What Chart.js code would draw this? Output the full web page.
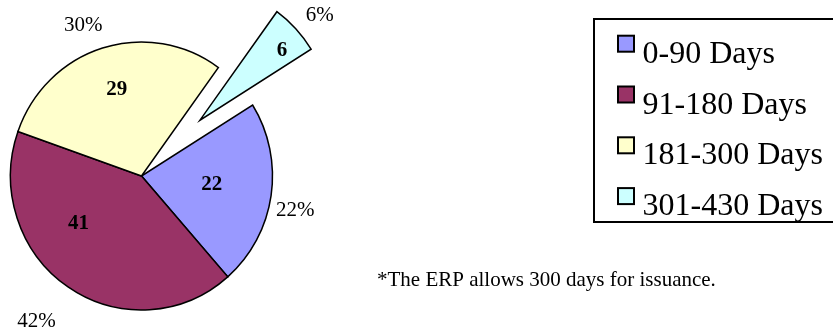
<!DOCTYPE html>
<html>
<head>
<meta charset="utf-8">
<script src="https://cdn.jsdelivr.net/npm/chart.js@4.4.1/dist/chart.umd.min.js"></script>
<style>
  html, body { margin: 0; padding: 0; background: #fff; }
  #wrap { width: 833px; height: 333px; position: relative; }
</style>
</head>
<body>
<div id="wrap"><canvas id="chart"></canvas></div>
<script>
// data
const categories = ['0-90 Days', '91-180 Days', '181-300 Days', '301-430 Days'];
const values = [22, 41, 29, 6];
const colors = ['#9999ff', '#993366', '#ffffcc', '#ccffff'];
const footnote = '*The ERP allows 300 days for issuance.';

const SERIF = '"Liberation Serif", "Times New Roman", serif';

// draws each slice itself so the pulled-out one keeps its radius
// (pie in the original is a touch taller than wide -> squash)
const explodePlugin = {
  id: 'explode',
  beforeDatasetDraw(chart, args, opts) {
    const ctx = chart.ctx;
    args.meta.data.forEach((arc, i) => {
      const d = opts.distance[i] || 0;
      const mid = (arc.startAngle + arc.endAngle) / 2;
      ctx.save();
      ctx.translate(arc.x, arc.y);
      ctx.scale(1, opts.squash);
      ctx.translate(-arc.x, -arc.y);
      ctx.translate(Math.cos(mid) * d, Math.sin(mid) * d);
      arc.draw(ctx, chart.chartArea);
      ctx.restore();
    });
    return false;
  }
};

// value inside, percentage outside
const sliceLabels = {
  id: 'sliceLabels',
  afterDatasetsDraw(chart, args, opts) {
    const ctx = chart.ctx;
    const meta = chart.getDatasetMeta(0);
    const data = chart.data.datasets[0].data;
    const total = data.reduce((a, b) => a + b, 0);
    const ex = chart.options.plugins.explode;
    const k = ex.squash;
    ctx.save();
    ctx.fillStyle = '#000';
    ctx.textAlign = 'center';
    ctx.textBaseline = 'alphabetic';
    meta.data.forEach((arc, i) => {
      const mid = (arc.startAngle + arc.endAngle) / 2;
      const push = ex.distance[i] || 0;
      const cx = arc.x + Math.cos(mid) * push;
      const cy = arc.y + Math.sin(mid) * push * k;
      const r = arc.outerRadius;

      const v = opts.valuePos[i];
      let a = mid + v.da * Math.PI / 180;
      ctx.font = 'bold ' + opts.size + 'px ' + SERIF;
      ctx.fillText(String(data[i]), cx + Math.cos(a) * r * v.f, cy + Math.sin(a) * r * v.f * k + opts.size * 0.33);

      const p = opts.pctPos[i];
      a = mid + p.da * Math.PI / 180;
      ctx.font = opts.size + 'px ' + SERIF;
      const pct = Math.round(data[i] / total * 100) + '%';
      ctx.fillText(pct, cx + Math.cos(a) * r * p.f, cy + Math.sin(a) * r * p.f * k + opts.size * 0.33);
    });
    ctx.restore();
  }
};

// boxed legend and the footnote
const sideText = {
  id: 'sideText',
  afterDraw(chart) {
    const ctx = chart.ctx;
    const ds = chart.data.datasets[0];
    ctx.save();
    ctx.lineWidth = 2;
    ctx.strokeStyle = '#000';
    ctx.strokeRect(594, 19, 245, 203);

    ctx.font = '32px ' + SERIF;
    ctx.textAlign = 'left';
    ctx.textBaseline = 'alphabetic';
    chart.data.labels.forEach((lab, i) => {
      const base = 62.7 + i * 50.8;
      ctx.fillStyle = ds.backgroundColor[i];
      ctx.fillRect(618, base - 27, 16, 16);
      ctx.strokeRect(618, base - 27, 16, 16);
      ctx.fillStyle = '#000';
      ctx.fillText(lab, 642.5, base);
    });

    ctx.font = '21px ' + SERIF;
    ctx.fillText(footnote, 377, 286);
    ctx.restore();
  }
};

new Chart(document.getElementById('chart'), {
  type: 'pie',
  data: {
    labels: categories,
    datasets: [{
      data: values,
      backgroundColor: colors,
      borderColor: '#000',
      borderWidth: 1.5,
      borderJoinStyle: 'miter'
    }]
  },
  options: {
    responsive: true,
    maintainAspectRatio: false,
    animation: false,
    rotation: 58,
    radius: 131,
    layout: { padding: { left: 0, right: 550, top: 19, bottom: 0 } },
    plugins: {
      legend: { display: false },
      tooltip: { enabled: false },
      explode: { distance: [0, 0, 0, 80], squash: 1.023 },
      sliceLabels: {
        size: 21,
        valuePos: [{ da: -2.5, f: 0.54 }, { da: 20.6, f: 0.59 }, { da: 1.1, f: 0.68 }, { da: 2.8, f: 0.82 }],
        pctPos: [{ da: 3.6, f: 1.2 }, { da: 2.6, f: 1.34 }, { da: -4.2, f: 1.215 }, { da: 2.1, f: 1.21 }]
      }
    }
  },
  plugins: [explodePlugin, sliceLabels, sideText]
});
</script>
</body>
</html>
